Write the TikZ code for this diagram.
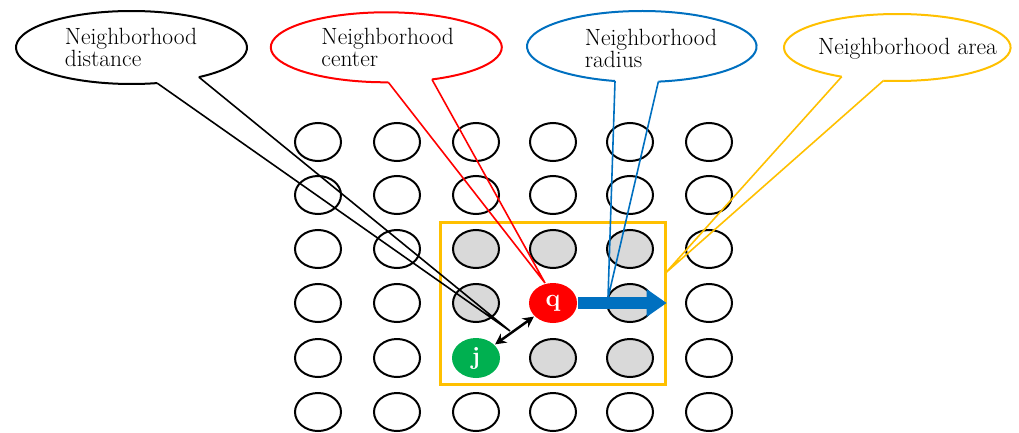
\documentclass[tikz,border=0pt]{standalone}
\usepackage{fontspec}
\setmainfont{Latin Modern Roman}
\usetikzlibrary{shapes.geometric,arrows.meta,calc}
\definecolor{cellgray}{HTML}{D9D9D9}
\definecolor{qred}{HTML}{FF0000}
\definecolor{jgreen}{HTML}{00B050}
\definecolor{rblue}{HTML}{0070C0}
\definecolor{ayellow}{HTML}{FFC000}
\tikzset{
  cell/.style={ellipse, draw=black, line width=2pt, minimum width=46pt, minimum height=38pt, inner sep=0pt},
  centernode/.style={cell, draw=none, fill=#1, text=white, font=\fontsize{25}{25}\selectfont\bfseries},
  areabox/.style={draw=ayellow, line width=2.8pt},
  radiusarrow/.style={draw=rblue, line width=12pt, -{Triangle[length=20pt,width=28pt,line width=0pt]}},
  distarrow/.style={draw=black, line width=2.5pt, {Stealth[length=11pt,width=11pt]}-{Stealth[length=11pt,width=11pt]}},
  calloutline/.style={draw=#1, line width=2pt},
  tailline/.style={draw=#1, line width=1.6pt, line join=miter},
  calltext/.style={align=left, inner sep=0pt, font=\fontsize{23.5}{22}\selectfont}
}
\begin{document}
\begin{tikzpicture}[x=1pt,y=1pt]
\useasboundingbox (0,0) rectangle (1019,432);
% grid
\foreach \r/\y in {1/290,2/237,6/20}
  \foreach \c/\x in {1/318,2/397,3/476,4/553,5/630,6/709}
    \node[cell] (n\c\r) at (\x,\y) {};
\foreach \r/\y in {3/183,4/129,5/74}
  \foreach \c/\x in {1/318,2/397,6/709}
    \node[cell] (n\c\r) at (\x,\y) {};
\foreach \c/\r/\x/\y in {3/3/476/183,4/3/553/183,5/3/630/183,3/4/476/129,5/4/630/129,4/5/553/74,5/5/630/74}
  \node[cell, fill=cellgray] (n\c\r) at (\x,\y) {};
% neighborhood area
\node[areabox, minimum width=225pt, minimum height=162pt, inner sep=0pt] (area) at (553,128.5) {};
% center and neighbor
\node[centernode=qred, minimum width=48pt, minimum height=40pt] (q) at (553,129) {q};
\node[centernode=jgreen, minimum width=48pt, minimum height=40pt] (j) at (476,74) {j};
% radius arrow
\coordinate (rtip) at (666.5,129);
\draw[radiusarrow] (q.east) -- (rtip);
% distance arrow
\draw[distarrow] (j) -- (q);
% callout: distance
\coordinate (ca) at (131.5,384.5);
\coordinate (tipa) at (510,101);
\draw[calloutline=black] ($(ca)+(-54.3:115.5pt and 36.5pt)$) arc[start angle=-54.3, end angle=282.8, x radius=115.5pt, y radius=36.5pt];
\draw[tailline=black] ($(ca)+(-54.3:115.5pt and 36.5pt)$) -- (tipa) -- ($(ca)+(-77.2:115.5pt and 36.5pt)$);
\node[calltext] (ta) at (131,384.3) {Neighborhood\\distance};
% callout: center
\coordinate (cb) at (386.3,384.7);
\coordinate (tipb) at (545,149);
\draw[calloutline=qred] ($(cb)+(-66.7:115.5pt and 35pt)$) arc[start angle=-66.7, end angle=271, x radius=115.5pt, y radius=35pt];
\draw[tailline=qred] ($(cb)+(-66.7:115.5pt and 35pt)$) -- (tipb) -- ($(cb)+(-89:115.5pt and 35pt)$);
\node[calltext] (tb) at (387.7,384.3) {Neighborhood\\center};
% callout: radius
\coordinate (cc) at (641.8,385.5);
\coordinate (tipc) at (608,134);
\draw[calloutline=rblue] ($(cc)+(-81.7:114.8pt and 35.5pt)$) arc[start angle=-81.7, end angle=256.5, x radius=114.8pt, y radius=35.5pt];
\draw[tailline=rblue] ($(cc)+(-81.7:114.8pt and 35.5pt)$) -- (tipc) -- ($(cc)+(-103.5:114.8pt and 35.5pt)$);
\node[calltext] (tc) at (651,383.5) {Neighborhood\\radius};
% callout: area
\coordinate (cd) at (897.3,384.5);
\coordinate (tipd) at (665.5,159);
\draw[calloutline=ayellow] ($(cd)+(-97.1:113.3pt and 33.5pt)$) arc[start angle=-97.1, end angle=240.6, x radius=113.3pt, y radius=33.5pt];
\draw[tailline=ayellow] ($(cd)+(-97.1:113.3pt and 33.5pt)$) -- (tipd) -- ($(cd)+(-119.4:113.3pt and 33.5pt)$);
\node[calltext, anchor=base] (td) at (907.5,377) {Neighborhood area};
\end{tikzpicture}
\end{document}
